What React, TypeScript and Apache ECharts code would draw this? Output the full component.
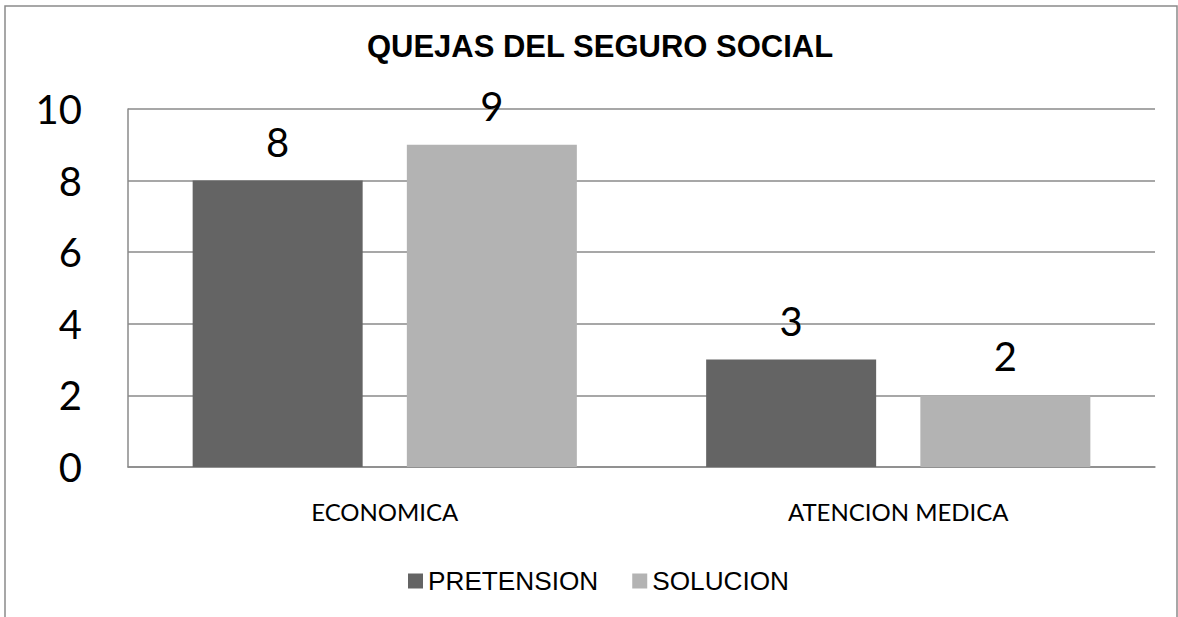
import React, { useEffect, useRef } from "react";
import * as echarts from "echarts";

const titleText = "QUEJAS DEL SEGURO SOCIAL";
const categories = ["ECONOMICA", "ATENCION MEDICA"];
const seriesNames = ["PRETENSION", "SOLUCION"];
const pretension = [8, 3];
const solucion = [9, 2];
const yTicks = { min: 0, max: 10, interval: 2 };

export default function App() {
  const ref = useRef<HTMLDivElement>(null);
  useEffect(() => {
    document.body.style.margin = "0";
    const chart = echarts.init(ref.current!, null, { renderer: "svg" });
    const labelStyle = {
      show: true,
      position: "top",
      distance: 19,
      fontFamily: "Lato",
      fontSize: 40,
      color: "#000",
    };
    chart.setOption({
      animation: false,
      backgroundColor: "#fff",
      title: {
        text: titleText,
        left: 595,
        textAlign: "center",
        top: 26,
        textStyle: { fontFamily: "Liberation Sans", fontWeight: "bold", fontSize: 31, color: "#000" },
      },
      legend: {
        data: seriesNames,
        left: 403,
        top: 563,
        itemWidth: 15,
        itemHeight: 15,
        itemGap: 34,
        icon: "rect",
        textStyle: { fontFamily: "Liberation Sans", fontSize: 26.2, color: "#000" },
      },
      graphic: [
        {
          type: "rect",
          shape: { x: 5, y: 6, width: 1172, height: 700 },
          style: { fill: "none", stroke: "#8a8a8a", lineWidth: 1.5 },
          silent: true,
          z: -1,
        },
      ],
      grid: { left: 128, top: 109, right: 23, bottom: 150 },
      xAxis: {
        type: "category",
        data: categories,
        axisLine: { show: true, lineStyle: { color: "#8a8a8a", width: 1.5 } },
        axisTick: { show: false },
        axisLabel: { margin: 32, fontFamily: "Lato", fontSize: 24, color: "#000" },
      },
      yAxis: {
        type: "value",
        min: yTicks.min,
        max: yTicks.max,
        interval: yTicks.interval,
        axisLine: { show: true, lineStyle: { color: "#8a8a8a", width: 1.5 } },
        axisTick: { show: false },
        splitLine: { show: true, lineStyle: { color: "#8a8a8a", width: 1.5 } },
        axisLabel: { margin: 46, fontFamily: "Lato", fontSize: 40, color: "#000" },
      },
      series: [
        {
          name: seriesNames[0],
          type: "bar",
          data: pretension,
          barWidth: 170,
          barGap: "26%",
          itemStyle: { color: "#646464" },
          label: labelStyle,
        },
        {
          name: seriesNames[1],
          type: "bar",
          data: solucion,
          barWidth: 170,
          barGap: "26%",
          itemStyle: { color: "#b3b3b3" },
          label: labelStyle,
        },
      ],
    });
    return () => chart.dispose();
  }, []);
  return <div ref={ref} style={{ width: 1178, height: 617 }} />;
}
